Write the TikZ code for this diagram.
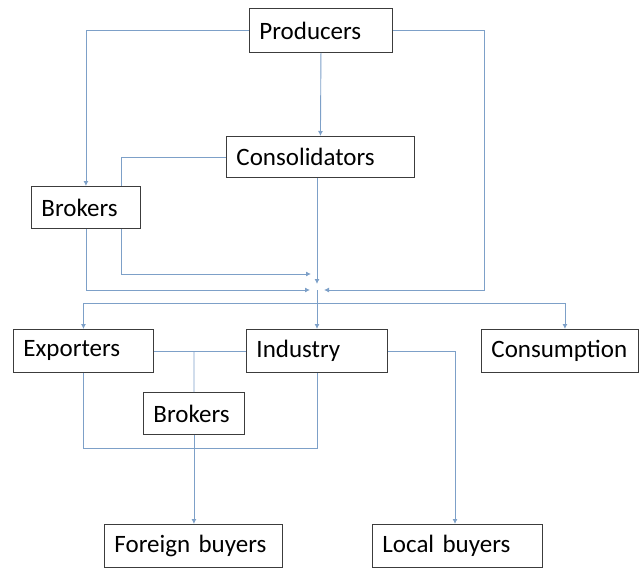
\documentclass[tikz,border=0pt]{standalone}
\usepackage{fontspec}
\setmainfont{Carlito}
\usetikzlibrary{arrows.meta}
\definecolor{linkblue}{RGB}{125,160,200}
\definecolor{boxgray}{RGB}{60,60,60}
\tikzset{
  box/.style={draw=boxgray, line width=0.9pt, inner xsep=10pt, inner ysep=0pt,
    minimum height=43pt, align=left, anchor=north west,
    font=\fontsize{25}{30}\selectfont},
  link/.style={draw=linkblue, line width=0.9pt},
  arr/.style={link, -{Latex[length=5pt,width=5pt]}}
}
\begin{document}
\begin{tikzpicture}[x=1pt,y=-1pt]
\useasboundingbox (0,0) rectangle (639,570);
% nodes
\node[box, text width=123pt, minimum height=44pt] (prod) at (249,8) {Producers};
\node[box, text width=168pt, minimum height=41pt] (cons) at (226,136) {Consolidators};
\node[box, text width=89pt, minimum height=42pt] (brk1) at (31,186) {Brokers};
\node[box, text width=120pt] (exp) at (13,329) {Exporters};
\node[box, text width=121pt] (ind) at (246,329) {Industry};
\node[box, text width=137pt] (consum) at (481,329) {Consumption};
\node[box, text width=81pt, minimum height=42pt] (brk2) at (143,392) {Brokers};
\node[box, text width=158pt] (fb) at (104,524) {Foreign buyers};
\node[box, text width=150pt] (lb) at (372,524) {Local buyers};
% coordinates
\coordinate (hub) at (317,290);
\coordinate (hubL) at (310,290);
\coordinate (hubR) at (324,290);
\coordinate (hubT) at (317,284);
\coordinate (topin) at (311,274);
\coordinate (rt) at (484,290);
\coordinate (b1x) at (121,0);
\coordinate (dist) at (317,303);
\coordinate (j) at (194,351);
\coordinate (loop) at (83,448);
\coordinate (lbx) at (455,351);
% upper connectors
\draw[arr] (prod.west) -| (brk1.north);
\draw[arr] (prod.south) -- (cons.north);
\draw[arr] (prod.east) -| (rt) -- (hubR);
\draw[link] (cons.west) -| (brk1.north -| b1x);
\draw[arr] (brk1.south -| b1x) |- (topin);
\draw[arr] (brk1.south) |- (hubL);
\draw[arr] (cons.south -| hub) -- (hubT);
% distribution
\draw[arr] (hub) -- (ind.north -| hub);
\draw[arr] (dist) -| (exp.north);
\draw[arr] (dist) -| ([xshift=5pt]consum.north);
% lower connectors
\draw[link] (exp.east) -- (ind.west);
\draw[link] (j) -- (brk2.north);
\draw[arr] (brk2.south) -- (fb.north -| brk2.south);
\draw[link] (exp.south) |- (loop -| ind.south) -- (ind.south);
\draw[arr] (ind.east) -| (lb.north -| lbx);
\end{tikzpicture}
\end{document}
